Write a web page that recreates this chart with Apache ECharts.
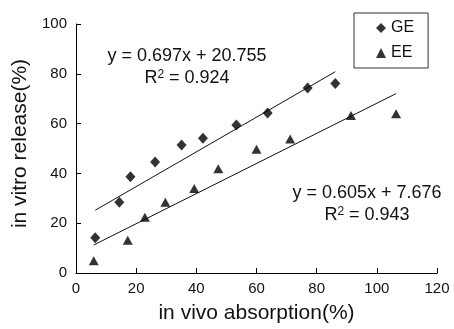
<!DOCTYPE html>
<html>
<head>
<meta charset="utf-8">
<script src="https://cdn.jsdelivr.net/npm/echarts@6/dist/echarts.min.js"></script>
<style>
  html, body { margin: 0; padding: 0; background: #fff; }
  #chart { width: 454px; height: 329px; }
</style>
</head>
<body>
<div id="chart"></div>
<script>
// GE points (in vivo absorption %, in vitro release %)
const geX = [6.4, 14.4, 18.1, 26.3, 35.1, 42.2, 53.3, 63.7, 77.0, 86.2]
const geY = [14.2, 28.4, 38.7, 44.6, 51.4, 54.1, 59.4, 64.3, 74.3, 76.1]

// EE points
const eeX = [5.9, 17.2, 22.9, 29.7, 39.3, 47.3, 60.0, 71.2, 91.4, 106.4]
const eeY = [4.9, 13.2, 22.4, 28.4, 33.9, 41.9, 49.7, 53.8, 63.3, 64.0]

// linear fits printed on the figure
const geFit = { slope: 0.697, intercept: 20.755, r2: 0.924 }
const eeFit = { slope: 0.605, intercept: 7.676, r2: 0.943 }

const xTicks = [0, 20, 40, 60, 80, 100, 120]
const yTicks = [0, 20, 40, 60, 80, 100]

const font = '"Liberation Sans", Arial, Helvetica, sans-serif'
const ink = '#111'

const pairs = (xs, ys) => xs.map((x, i) => [x, ys[i]])

const fitLine = (xs, fit) => {
  const lo = Math.min(...xs)
  const hi = Math.max(...xs)
  return [lo, hi].map(x => [x, fit.slope * x + fit.intercept])
}

const eqText = fit => {
  return 'y = ' + fit.slope.toFixed(3) + 'x + ' + fit.intercept.toFixed(3) +
    '\nR{sup|2} = ' + fit.r2.toFixed(3)
}

const eqLabel = (x, y, fit) => ({
  type: 'text',
  x: x,
  y: y,
  style: {
    text: eqText(fit),
    font: '18px ' + font,
    fill: ink,
    align: 'center',
    verticalAlign: 'top',
    lineHeight: 22,
    rich: {
      sup: { fontSize: 12, fontFamily: font, fill: ink, padding: [0, 0, 7, 0] }
    }
  }
})

const chart = echarts.init(document.getElementById('chart'))

const option = {
  animation: false,
  backgroundColor: '#fff',
  textStyle: { fontFamily: font, color: ink },
  grid: {
    left: 76,
    right: 17,
    top: 24,
    bottom: 53,
    containLabel: false
  },
  legend: {
    data: ['GE', 'EE'],
    orient: 'vertical',
    left: 354,
    top: 13,
    padding: [7, 14, 7, 22],
    itemWidth: 10,
    itemHeight: 10,
    itemGap: 9,
    borderColor: '#333',
    borderWidth: 1,
    textStyle: { fontSize: 16, color: ink, fontFamily: font, lineHeight: 16 }
  },
  xAxis: {
    type: 'value',
    min: xTicks[0],
    max: xTicks[xTicks.length - 1],
    interval: 20,
    name: 'in vivo absorption(%)',
    nameLocation: 'middle',
    nameGap: 30,
    nameTextStyle: { fontSize: 21, color: ink, fontFamily: font },
    axisLine: { lineStyle: { color: '#000', width: 1 } },
    axisTick: { inside: true, length: 5, lineStyle: { color: '#000' } },
    axisLabel: { fontSize: 15, color: ink, margin: 8 },
    splitLine: { show: false }
  },
  yAxis: {
    type: 'value',
    min: yTicks[0],
    max: yTicks[yTicks.length - 1],
    interval: 20,
    name: 'in vitro release(%)',
    nameLocation: 'middle',
    nameGap: 44,
    nameTextStyle: { fontSize: 21, color: ink, fontFamily: font, padding: [0, 0, 0, 10] },
    axisLine: { show: true, lineStyle: { color: '#000', width: 1 } },
    axisTick: { show: true, inside: true, length: 5, lineStyle: { color: '#000' } },
    axisLabel: { fontSize: 15, color: ink, margin: 9 },
    splitLine: { show: false }
  },
  series: [
    {
      name: 'GE',
      type: 'scatter',
      symbol: 'diamond',
      symbolSize: [10, 11],
      itemStyle: { color: '#000' },
      data: pairs(geX, geY)
    },
    {
      name: 'EE',
      type: 'scatter',
      symbol: 'triangle',
      symbolSize: [10, 9],
      itemStyle: { color: '#000' },
      data: pairs(eeX, eeY)
    },
    {
      name: 'GE fit',
      type: 'line',
      symbol: 'none',
      lineStyle: { color: '#111', width: 1 },
      data: fitLine(geX, geFit),
      z: 1
    },
    {
      name: 'EE fit',
      type: 'line',
      symbol: 'none',
      lineStyle: { color: '#111', width: 1 },
      data: fitLine(eeX, eeFit),
      z: 1
    }
  ],
  graphic: [
    eqLabel(187, 45, geFit),
    eqLabel(367, 182, eeFit)
  ]
}

chart.setOption(option)
</script>
</body>
</html>
